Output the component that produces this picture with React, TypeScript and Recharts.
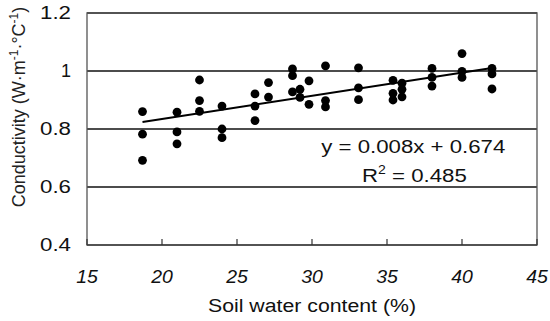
import { ScatterChart, Scatter, XAxis, YAxis, CartesianGrid, ReferenceArea } from 'recharts'

// soil water content (%) for each measured point
const waterContent = [
  18.7, 18.7, 18.7,
  21.0, 21.0, 21.0,
  22.5, 22.5, 22.5,
  24.0, 24.0, 24.0,
  26.2, 26.2, 26.2,
  27.1, 27.1,
  28.7, 28.7, 28.7,
  29.2, 29.2,
  29.8, 29.8,
  30.9, 30.9, 30.9,
  33.1, 33.1, 33.1,
  35.4, 35.4, 35.4,
  36.0, 36.0, 36.0,
  38.0, 38.0, 38.0,
  40.0, 40.0, 40.0,
  42.0, 42.0, 42.0,
]

// conductivity (W·m-1·°C-1), same order
const conductivity = [
  0.86, 0.782, 0.692,
  0.858, 0.79, 0.749,
  0.969, 0.898, 0.861,
  0.879, 0.8, 0.77,
  0.921, 0.879, 0.829,
  0.96, 0.91,
  1.007, 0.984, 0.928,
  0.937, 0.909,
  0.966, 0.885,
  1.018, 0.898, 0.876,
  1.011, 0.942, 0.901,
  0.968, 0.923, 0.9,
  0.958, 0.937, 0.911,
  1.009, 0.978, 0.948,
  1.06, 0.999, 0.978,
  1.009, 0.99, 0.938,
]

// trend line end points as drawn
const trendX = [18.7, 42.0]
const trendY = [0.824, 1.01]

const xTicks = [15, 20, 25, 30, 35, 40, 45]
const yTicks = [0.4, 0.6, 0.8, 1, 1.2]

const equation = 'y = 0.008x + 0.674'
const rSquared = '0.485'

const FONT = '"Liberation Sans", Arial, Helvetica, sans-serif'

const points = waterContent.map((x, i) => ({ x, y: conductivity[i] }))
const trend = trendX.map((x, i) => ({ x, y: trendY[i] }))

// horizontal stretch round a centre x (the scan is wider than tall)
const stretch = (cx: number, k: number) => `translate(${cx} 0) scale(${k} 1) translate(${-cx} 0)`

const XTick = (props: any) => {
  const { x, y, payload } = props
  return (
    <g>
      <line x1={x} y1={y} x2={x} y2={y - 6} stroke="#333" strokeWidth={1.2} />
      <text x={x} y={y + 38} textAnchor="middle" fontFamily={FONT} fontSize={18}
        fontStyle="italic" fill="#111" transform={stretch(x, 1.08)}>{payload.value}</text>
    </g>
  )
}

const YTick = (props: any) => {
  const { x, y, payload } = props
  const s = String(payload.value)
  return (
    <text x={x} y={y + 6} textAnchor="end" fontFamily={FONT} fontSize={18} fill="#111"
      {...(s.length > 1 ? { textLength: 31, lengthAdjust: 'spacingAndGlyphs' } : {})}>{s}</text>
  )
}

const Dot = (props: any) => (
  <circle cx={props.cx} cy={props.cy} r={4.4} fill="#000" />
)

export default function App() {
  return (
    <div style={{ position: 'absolute', left: 0, top: 0, width: 550, height: 321, background: '#fff' }}>
      <ScatterChart width={550} height={321} margin={{ top: 13, right: 13, bottom: 0, left: 0 }}>
        <CartesianGrid horizontal vertical={false} stroke="#111" strokeWidth={1.3} />
        <XAxis
          type="number" dataKey="x" domain={[15, 45]} ticks={xTicks}
          height={76} axisLine={false} tickLine={false} tickSize={0} tickMargin={0}
          tick={<XTick />} interval={0}
          label={{
            content: (p: any) => {
              const vb = p.viewBox
              return (
                <text x={vb.x + vb.width / 2} y={vb.y + 67} textAnchor="middle" fontFamily={FONT}
                  fontSize={18} fill="#111" textLength={208} lengthAdjust="spacingAndGlyphs">
                  Soil water content (%)
                </text>
              )
            },
          }}
        />
        <YAxis
          type="number" dataKey="y" domain={[0.4, 1.2]} ticks={yTicks}
          width={87} axisLine={false} tickLine={false} tickSize={0} tickMargin={16}
          tick={<YTick />} interval={0}
          label={{
            content: (p: any) => {
              const vb = p.viewBox
              const cx = vb.x + 25
              const cy = vb.y + vb.height / 2 - 22
              return (
                <text x={cx} y={cy} transform={`rotate(-90 ${cx} ${cy})`} textAnchor="middle"
                  fontFamily={FONT} fontSize={18} fill="#222">
                  Conductivity (W·m<tspan dy={-7} fontSize={12}>-1</tspan>
                  <tspan dy={7}>·°C</tspan><tspan dy={-7} fontSize={12}>-1</tspan>
                  <tspan dy={7}>)</tspan>
                </text>
              )
            },
          }}
        />
        <ReferenceArea
          x1={15} x2={45} y1={0.4} y2={1.2} fill="none" stroke="#555" strokeWidth={1.3}
          label={{
            content: (p: any) => {
              const vb = p.viewBox
              const cx = vb.x + vb.width * 0.725
              return (
                <g fontFamily={FONT} fill="#111" transform={stretch(cx, 1.17)}>
                  <text x={cx} y={vb.y + vb.height * 0.603} textAnchor="middle" fontSize={19}>
                    {equation}
                  </text>
                  <text x={cx + 1} y={vb.y + vb.height * 0.728} textAnchor="middle" fontSize={19}>
                    R<tspan dy={-8} fontSize={12}>2</tspan><tspan dy={8}> = {rSquared}</tspan>
                  </text>
                </g>
              )
            },
          }}
        />
        <Scatter data={trend} line={{ stroke: '#000', strokeWidth: 2 }} shape={() => <g />}
          isAnimationActive={false} />
        <Scatter data={points} shape={<Dot />} isAnimationActive={false} />
      </ScatterChart>
    </div>
  )
}
